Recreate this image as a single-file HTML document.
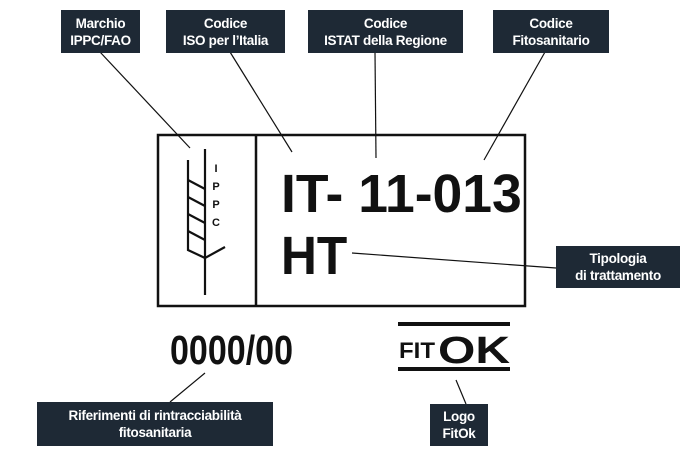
<!DOCTYPE html>
<html><head><style>
body{margin:0;width:690px;height:459px;background:#fff;position:relative;overflow:hidden;font-family:"Liberation Sans",sans-serif}
.l{position:absolute;background:#1e2935;color:#fff;font-weight:bold;font-size:13.5px;line-height:17px;text-align:center;display:flex;align-items:center;justify-content:center;letter-spacing:-0.3px}
.t{position:absolute;font-weight:bold;color:#111;white-space:nowrap;transform-origin:0 0}
</style></head><body>
<svg width="690" height="459" style="position:absolute;left:0;top:0">
<g stroke="#111" stroke-width="1.2">
<line x1="100" y1="52" x2="190" y2="148"/>
<line x1="230" y1="52" x2="292" y2="152"/>
<line x1="375" y1="52" x2="376" y2="158"/>
<line x1="545" y1="52" x2="484" y2="160"/>
<line x1="352" y1="253" x2="556" y2="268"/>
<line x1="205" y1="373" x2="170" y2="402"/>
<line x1="456" y1="380" x2="466" y2="404"/>
</g>
<rect x="158" y="135" width="367" height="171" fill="none" stroke="#111" stroke-width="2.5"/>
<line x1="256" y1="135" x2="256" y2="306" stroke="#111" stroke-width="2.5"/>
<g stroke="#111" stroke-width="2.2" fill="none">
<line x1="205" y1="149" x2="205" y2="295"/>
<polyline points="188,160 188,250 205,258 225,247"/>
<line x1="188" y1="180" x2="205" y2="189"/>
<line x1="188" y1="197" x2="205" y2="206"/>
<line x1="188" y1="214" x2="205" y2="223"/>
<line x1="188" y1="231" x2="205" y2="240"/>
</g>
<g fill="#111" font-family="Liberation Sans" font-weight="bold" font-size="11" text-anchor="middle">
<text x="216" y="172">I</text><text x="216" y="190">P</text><text x="216" y="208">P</text><text x="216" y="226">C</text>
</g>
<rect x="398" y="322" width="112" height="4" fill="#111"/>
<rect x="398" y="367" width="112" height="4" fill="#111"/>
<g fill="#111" font-family="Liberation Sans" font-weight="bold">
<text x="399" y="358" font-size="22" textLength="36" lengthAdjust="spacingAndGlyphs">FIT</text>
<text x="438" y="363" font-size="38" textLength="72" lengthAdjust="spacingAndGlyphs">OK</text>
</g>
</svg>
<div class="t" style="left:281px;top:163px;font-size:54px;transform:scaleX(0.99)">IT- 11-013</div>
<div class="t" style="left:281px;top:225px;font-size:54px;transform:scaleX(0.92)">HT</div>
<div class="t" style="left:170px;top:327px;font-size:41px;transform:scaleX(0.83)">0000/00</div>
<div class="l" style="left:61px;top:10px;width:79px;height:43px">Marchio<br>IPPC/FAO</div>
<div class="l" style="left:166px;top:10px;width:119px;height:43px">Codice<br>ISO per l’Italia</div>
<div class="l" style="left:308px;top:10px;width:155px;height:43px">Codice<br>ISTAT della Regione</div>
<div class="l" style="left:493px;top:10px;width:116px;height:43px">Codice<br>Fitosanitario</div>
<div class="l" style="left:556px;top:246px;width:124px;height:42px">Tipologia<br>di trattamento</div>
<div class="l" style="left:37px;top:402px;width:236px;height:44px">Riferimenti di rintracciabilità<br>fitosanitaria</div>
<div class="l" style="left:430px;top:404px;width:58px;height:42px">Logo<br>FitOk</div>
</body></html>
